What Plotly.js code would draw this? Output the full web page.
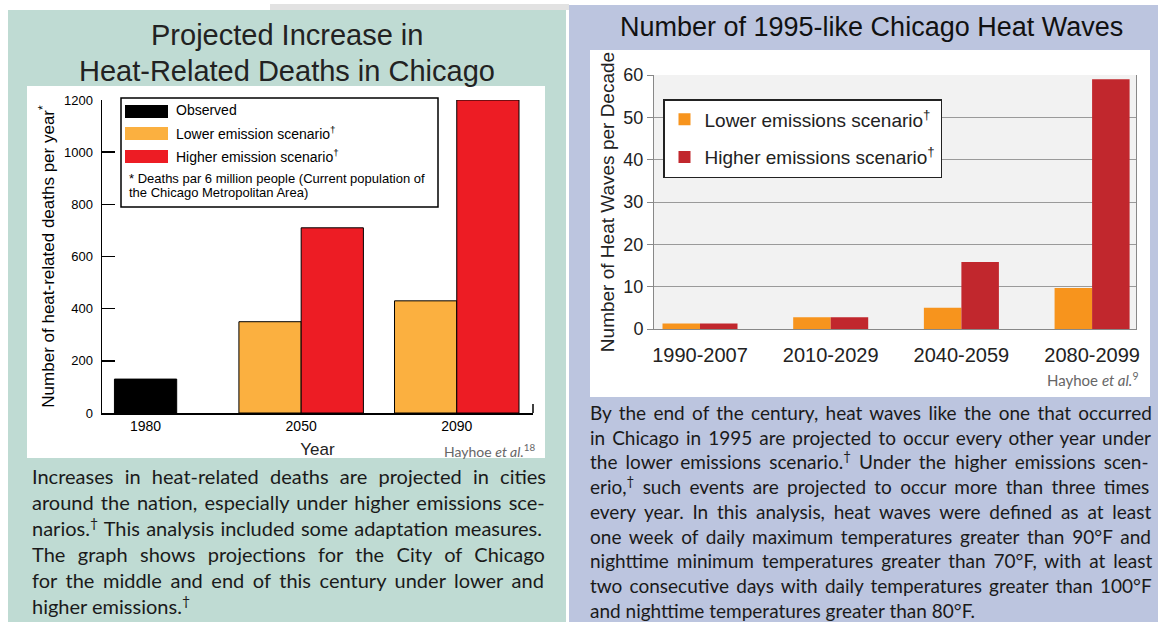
<!DOCTYPE html>
<html>
<head>
<meta charset="utf-8">
<script src="https://cdn.plot.ly/plotly-3.0.1.min.js"></script>
<style>html,body{margin:0;padding:0;background:#fff;}#chart{width:1158px;height:624px;}</style>
</head>
<body>
<div id="chart"></div>
<script>
// ---- Data: left chart (heat-related deaths) ----
const deathYears = ['1980', '2050', '2090'];
const observedYears = ['1980'];
const observedDeaths = [130];
const scenarioYears = ['2050', '2090'];
const lowerDeaths = [350, 430];
const higherDeaths = [710, 1200];
const deathTicks = [0, 200, 400, 600, 800, 1000, 1200];

// ---- Data: right chart (heat waves per decade) ----
const periods = ['1990-2007', '2010-2029', '2040-2059', '2080-2099'];
const lowerWaves = [1.3, 2.8, 5, 9.7];
const higherWaves = [1.3, 2.8, 15.8, 59];
const waveTicks = [0, 10, 20, 30, 40, 50, 60];

// ---- Texts ----
const leftTitle = ['Projected Increase in', 'Heat-Related Deaths in Chicago'];
const rightTitle = 'Number of 1995-like Chicago Heat Waves';
const leftLegendLabels = ['Observed', 'Lower emission scenario<sup>†</sup>', 'Higher emission scenario<sup>†</sup>'];
const leftFootnote = ['* Deaths par 6 million people (Current population of', 'the Chicago Metropolitan Area)'];
const leftBody = [
  'Increases in heat-related deaths are projected in cities',
  'around the nation, especially under higher emissions sce-',
  'narios.<sup>†</sup> This analysis included some adaptation measures.',
  'The graph shows projections for the City of Chicago',
  'for the middle and end of this century under lower and',
  'higher emissions.<sup>†</sup>'
];
const rightBody = [
  'By the end of the century, heat waves like the one that occurred',
  'in Chicago in 1995 are projected to occur every other year under',
  'the lower emissions scenario.<sup>†</sup> Under the higher emissions scen-',
  'erio,<sup>†</sup> such events are projected to occur more than three times',
  'every year. In this analysis, heat waves were defined as at least',
  'one week of daily maximum temperatures greater than 90°F and',
  'nighttime minimum temperatures greater than 70°F, with at least',
  'two consecutive days with daily temperatures greater than 100°F',
  'and nighttime temperatures greater than 80°F.'
];

// ---- Colours ----
const cBlack = '#000000', cLowL = '#fbb040', cHighL = '#ed1c24';
const cLowR = '#f7941d', cHighR = '#c1272d';

const W = 1158, H = 624;
const X = p => p / W;
const Y = p => 1 - p / H;
const ARIAL = 'Liberation Sans, Arial, sans-serif';
const GILL = 'Lato, Open Sans, sans-serif';

const bw = 0.4;   // left bar width (category units)
const rw = 0.287; // right bar width

const traces = [
  {type: 'bar', name: 'Observed', x: observedYears, y: observedDeaths, xaxis: 'x', yaxis: 'y',
   width: bw, offset: -bw / 2, marker: {color: cBlack, line: {color: '#000', width: 1}}, showlegend: false},
  {type: 'bar', name: 'Lower emission scenario', x: scenarioYears, y: lowerDeaths, xaxis: 'x', yaxis: 'y',
   width: bw, offset: -bw, marker: {color: cLowL, line: {color: '#000', width: 1}}, showlegend: false},
  {type: 'bar', name: 'Higher emission scenario', x: scenarioYears, y: higherDeaths, xaxis: 'x', yaxis: 'y',
   width: bw, offset: 0, marker: {color: cHighL, line: {color: '#000', width: 1}}, showlegend: false},
  {type: 'bar', name: 'Lower emissions scenario<sup>†</sup>', x: periods, y: lowerWaves, xaxis: 'x2', yaxis: 'y2',
   width: rw, offset: -rw, marker: {color: cLowR, line: {width: 0}}, legendgroup: 'a'},
  {type: 'bar', name: 'Higher emissions scenario<sup>†</sup>', x: periods, y: higherWaves, xaxis: 'x2', yaxis: 'y2',
   width: rw, offset: 0, marker: {color: cHighR, line: {width: 0}}, legendgroup: 'b'}
];

const shapes = [
  {type: 'rect', xref: 'paper', yref: 'paper', x0: X(270), x1: X(569), y0: Y(10), y1: Y(4), fillcolor: '#e2e2e2', line: {width: 0}, layer: 'below'},
  {type: 'rect', xref: 'paper', yref: 'paper', x0: X(8), x1: X(566), y0: Y(622), y1: Y(10), fillcolor: '#bfdbd3', line: {width: 0}, layer: 'below'},
  {type: 'rect', xref: 'paper', yref: 'paper', x0: X(569), x1: X(1158), y0: Y(622), y1: Y(5), fillcolor: '#bcc5df', line: {width: 0}, layer: 'below'},
  {type: 'rect', xref: 'paper', yref: 'paper', x0: X(27), x1: X(545), y0: Y(458), y1: Y(86), fillcolor: '#ffffff', line: {width: 0}, layer: 'below'},
  {type: 'rect', xref: 'paper', yref: 'paper', x0: X(590), x1: X(1150), y0: Y(397), y1: Y(50), fillcolor: '#ffffff', line: {width: 0}, layer: 'below'},
  {type: 'rect', xref: 'x2 domain', yref: 'y2 domain', x0: 0, x1: 1, y0: 0, y1: 1, fillcolor: '#f2f2f2', line: {width: 0}, layer: 'below'},
  // left legend box and swatches
  {type: 'rect', xref: 'paper', yref: 'paper', x0: X(121), x1: X(438), y0: Y(207), y1: Y(98), fillcolor: '#ffffff', line: {color: '#000', width: 1.5}, layer: 'above'},
  {type: 'rect', xref: 'paper', yref: 'paper', x0: X(125), x1: X(168), y0: Y(118), y1: Y(105), fillcolor: cBlack, line: {width: 0}, layer: 'above'},
  {type: 'rect', xref: 'paper', yref: 'paper', x0: X(125), x1: X(168), y0: Y(140), y1: Y(127), fillcolor: cLowL, line: {width: 0}, layer: 'above'},
  {type: 'rect', xref: 'paper', yref: 'paper', x0: X(125), x1: X(168), y0: Y(163), y1: Y(150), fillcolor: cHighL, line: {width: 0}, layer: 'above'},
  // end tick of left x axis
  {type: 'line', xref: 'paper', yref: 'paper', x0: X(533), x1: X(533), y0: Y(413), y1: Y(404), line: {color: '#000', width: 1.5}, layer: 'above'}
];

// justify a body line by spreading its word gaps to a target width
const measureCtx = document.createElement('canvas').getContext('2d');
function justify(line, size, family, target) {
  const plain = line.replace(/<[^>]+>/g, '');
  measureCtx.font = size + 'px ' + family;
  const natural = measureCtx.measureText(plain).width;
  const gaps = (plain.match(/ /g) || []).length;
  const ws = gaps ? Math.max(0, (target - natural) / gaps) : 0;
  return '<span style="word-spacing:' + ws.toFixed(2) + 'px">' + line + '</span>';
}
function paragraph(lines, size, target) {
  return lines.map((t, i) => i < lines.length - 1 ? justify(t, size, 'Lato', target) : t).join('<br>');
}

const annotations = [];
function ann(text, x, y, opts) {
  annotations.push(Object.assign({text: text, xref: 'paper', yref: 'paper', x: X(x), y: Y(y), showarrow: false,
    xanchor: 'left', yanchor: 'middle', align: 'left'}, opts));
}
ann(leftTitle[0], 287, 35, {xanchor: 'center', align: 'center', font: {family: ARIAL, size: 29, color: '#222'}});
ann(leftTitle[1], 287, 71, {xanchor: 'center', align: 'center', font: {family: ARIAL, size: 29, color: '#222'}});
ann(rightTitle, 871, 27, {xanchor: 'center', align: 'center', font: {family: ARIAL, size: 27, color: '#111'}});
[110, 133, 156].forEach((yy, i) => ann(leftLegendLabels[i], 174, yy, {font: {family: ARIAL, size: 14, color: '#000'}}));
ann(leftFootnote[0], 127, 178, {font: {family: ARIAL, size: 13, color: '#000'}});
ann(leftFootnote[1], 127, 192, {font: {family: ARIAL, size: 13, color: '#000'}});
ann('Hayhoe <i>et al.</i><sup>18</sup>', 537, 450, {xanchor: 'right', font: {family: GILL, size: 14, color: '#666'}});
ann('Hayhoe <i>et al.</i><sup>9</sup>', 1140, 380, {xanchor: 'right', font: {family: GILL, size: 15, color: '#666'}});
ann(paragraph(leftBody, 20, 514), 30, 541, {font: {family: GILL, size: 20, color: '#1a1a1a'}});
ann(paragraph(rightBody, 19, 563), 588, 511, {font: {family: GILL, size: 19, color: '#1a1a1a'}});

const layout = {
  width: W, height: H,
  margin: {l: 0, r: 0, t: 0, b: 0},
  paper_bgcolor: '#ffffff',
  plot_bgcolor: 'rgba(0,0,0,0)',
  font: {family: ARIAL, size: 14, color: '#222'},
  barmode: 'overlay',
  showlegend: true,
  xaxis: {
    domain: [X(102), X(533)], anchor: 'y', type: 'category',
    categoryorder: 'array', categoryarray: deathYears,
    range: [-0.28, 2.49], showline: true, linecolor: '#000', linewidth: 1.5,
    ticks: '', showgrid: false, zeroline: false, fixedrange: true,
    tickfont: {family: ARIAL, size: 14, color: '#000'},
    title: {text: 'Year', font: {family: ARIAL, size: 17, color: '#222'}, standoff: 10}
  },
  yaxis: {
    domain: [Y(413), Y(100)], anchor: 'x', range: [0, 1200],
    tickvals: deathTicks, ticks: 'inside', ticklen: 13, tickwidth: 1.5, tickcolor: '#000',
    ticklabelstandoff: 5,
    showline: true, linecolor: '#000', linewidth: 1.5, showgrid: false, zeroline: false,
    tickfont: {family: ARIAL, size: 13, color: '#000'},
    title: {text: 'Number of heat-related deaths per year<sup>*</sup>', font: {family: ARIAL, size: 17, color: '#000'}, standoff: 5}
  },
  xaxis2: {
    domain: [X(654), X(1136)], anchor: 'y2', type: 'category',
    categoryorder: 'array', categoryarray: periods,
    range: [-0.352, 3.336], showline: true, linecolor: '#888', linewidth: 1,
    ticks: '', showgrid: false, zeroline: false, ticklabelstandoff: 8,
    tickfont: {family: ARIAL, size: 20, color: '#222'}
  },
  yaxis2: {
    domain: [Y(329), Y(75)], anchor: 'x2', range: [0, 60],
    tickvals: waveTicks, ticks: 'outside', ticklen: 6, tickcolor: '#888',
    showline: true, mirror: true, linecolor: '#888', linewidth: 1,
    showgrid: true, gridcolor: '#9a9a9a', gridwidth: 1, zeroline: false,
    tickfont: {family: ARIAL, size: 18, color: '#222'},
    title: {text: 'Number of Heat Waves per Decade', font: {family: ARIAL, size: 19, color: '#222'}, standoff: 3}
  },
  legend: {
    x: X(663), y: Y(99), xanchor: 'left', yanchor: 'top',
    bgcolor: '#ffffff', bordercolor: '#222', borderwidth: 1.5,
    font: {family: ARIAL, size: 19, color: '#222'},
    traceorder: 'grouped', tracegroupgap: 10
  },
  shapes: shapes,
  annotations: annotations
};

Plotly.newPlot('chart', traces, layout, {displayModeBar: false, staticPlot: true});
</script>
</body>
</html>
